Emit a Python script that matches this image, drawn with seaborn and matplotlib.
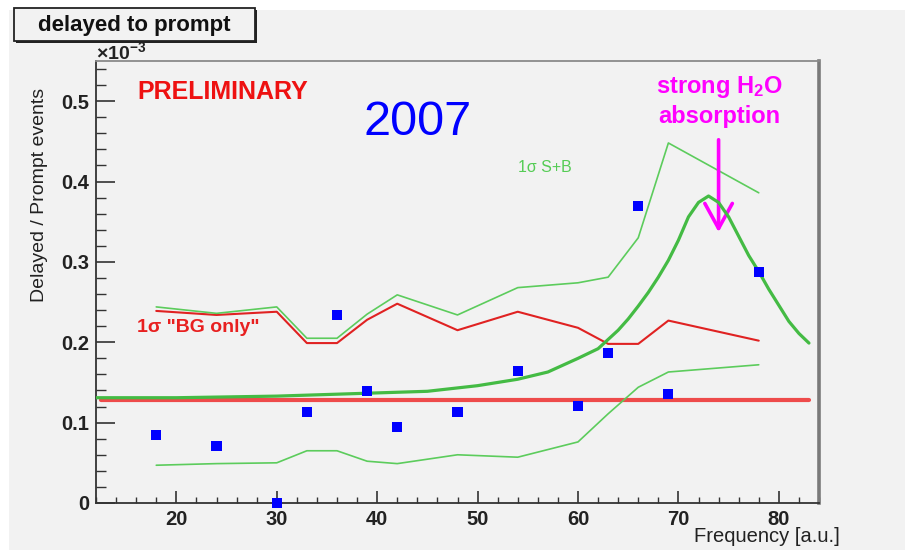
import matplotlib
matplotlib.use("Agg")
import matplotlib.pyplot as plt
from matplotlib.patches import Rectangle
from matplotlib.ticker import MultipleLocator
import numpy as np
import pandas as pd
import seaborn as sns

# ---- data (ratios in units of 1e-3) ----
freq = [18, 24, 30, 33, 36, 39, 42, 48, 54, 60, 63, 66, 69, 78]
measured = [0.085, 0.071, 0.0, 0.113, 0.234, 0.139, 0.094, 0.113,
            0.164, 0.121, 0.187, 0.370, 0.136, 0.288]

bg_only_upper = [0.239, 0.234, 0.238, 0.199, 0.199, 0.228, 0.248, 0.215,
                 0.238, 0.218, 0.198, 0.198, 0.227, 0.202]
sb_upper = [0.244, 0.236, 0.244, 0.205, 0.205, 0.235, 0.259, 0.234,
            0.268, 0.274, 0.281, 0.330, 0.448, 0.386]
sb_lower = [0.047, 0.049, 0.050, 0.065, 0.065, 0.052, 0.049, 0.060,
            0.057, 0.076, 0.111, 0.144, 0.163, 0.172]

bg_level = 0.128
bg_range = [12.5, 83.0]

model_freq = [12, 20, 30, 40, 45, 50, 54, 57, 60, 62, 64, 65, 66, 67, 68,
              69, 70, 71, 72, 73, 74, 75, 76, 77, 78, 79, 80, 81, 82, 83]
model_ratio = [0.131, 0.131, 0.133, 0.137, 0.139, 0.146, 0.154, 0.163,
               0.180, 0.192, 0.215, 0.229, 0.245, 0.262, 0.281, 0.302,
               0.327, 0.356, 0.374, 0.382, 0.374, 0.356, 0.332, 0.308,
               0.288, 0.266, 0.246, 0.226, 0.211, 0.199]

x_ticks = [20, 30, 40, 50, 60, 70, 80]
y_ticks = [0, 0.1, 0.2, 0.3, 0.4, 0.5]
y_tick_labels = ["0", "0.1", "0.2", "0.3", "0.4", "0.5"]

# ---- style ----
sns.set_theme(style="ticks")
plt.rcParams["font.family"] = ["Liberation Sans", "DejaVu Sans"]
plt.rcParams["mathtext.fontset"] = "custom"
plt.rcParams["mathtext.rm"] = "Liberation Sans:bold"
plt.rcParams["mathtext.it"] = "Liberation Sans:bold"
plt.rcParams["mathtext.bf"] = "Liberation Sans:bold"
plt.rcParams["lines.solid_joinstyle"] = "round"
plt.rcParams["lines.solid_capstyle"] = "round"

W, H = 906, 551
panel = "#f2f2f2"
fig = plt.figure(figsize=(W / 100, H / 100), dpi=100, facecolor="white")
fig.patches.append(Rectangle((9 / W, 1 / H), 896 / W, 540 / H,
                             transform=fig.transFigure, facecolor=panel,
                             edgecolor="none", zorder=-10))

ax = fig.add_axes([96 / W, 48 / H, (819 - 96) / W, (503 - 61) / H])
ax.set_facecolor(panel)

# measurements, expectation bands and signal model
sb_df = pd.DataFrame({"f": freq, "up": sb_upper, "lo": sb_lower,
                      "bg": bg_only_upper, "ratio": measured})
model_df = pd.DataFrame({"f": model_freq, "ratio": model_ratio})

sns.lineplot(x=bg_range, y=[bg_level, bg_level], ax=ax, color="#ee4b4b",
             lw=3.0, zorder=2)
sns.lineplot(data=sb_df, x="f", y="bg", ax=ax, color="#e02222", lw=1.5,
             zorder=3)
sns.lineplot(data=sb_df, x="f", y="up", ax=ax, color="#5ccc5c", lw=1.2,
             zorder=3)
sns.lineplot(data=sb_df, x="f", y="lo", ax=ax, color="#5ccc5c", lw=1.2,
             zorder=3)
sns.lineplot(data=model_df, x="f", y="ratio", ax=ax, color="#44bb44",
             lw=2.3, zorder=4)
sns.scatterplot(data=sb_df, x="f", y="ratio", ax=ax, marker="s", s=52,
                color="#0000ff", edgecolor="none", linewidth=0, zorder=6,
                clip_on=False)

ax.set_xlim(12, 84)
ax.set_ylim(0, 0.55)
ax.set_xlabel("")
ax.set_ylabel("")

ax.set_xticks(x_ticks)
ax.set_xticklabels([str(t) for t in x_ticks])
ax.set_yticks(y_ticks)
ax.set_yticklabels(y_tick_labels)
ax.xaxis.set_minor_locator(MultipleLocator(2))
ax.yaxis.set_minor_locator(MultipleLocator(0.02))
ax.tick_params(axis="y", which="major", direction="in", length=14,
               width=1.2, color="#333333", pad=5, labelsize=14.5,
               labelcolor="#222222")
ax.tick_params(axis="y", which="minor", direction="in", length=7,
               width=1.0, color="#333333")
ax.tick_params(axis="x", which="major", direction="in", length=9,
               width=1.2, color="#333333", pad=5, labelsize=14.5,
               labelcolor="#222222")
ax.tick_params(axis="x", which="minor", direction="in", length=4.5,
               width=1.0, color="#333333")
for lab in ax.get_xticklabels() + ax.get_yticklabels():
    lab.set_fontweight("bold")

for side in ("left", "bottom"):
    ax.spines[side].set_color("#333333")
    ax.spines[side].set_linewidth(1.3)
ax.spines["top"].set_color("#8a8a8a")
ax.spines["top"].set_linewidth(1.3)
ax.spines["right"].set_color("#7a7a7a")
ax.spines["right"].set_linewidth(2.6)

# annotations
ax.text(16.1, 0.512, "PRELIMINARY", color="#ee1111", fontsize=18,
        fontweight="bold", ha="left", va="center")
ax.text(44.0, 0.473, "2007", color="#0000ff", fontsize=35,
        ha="center", va="center")
ax.text(54.0, 0.417, "1σ S+B", color="#55cc55", fontsize=11.5,
        ha="left", va="center")
ax.text(16.1, 0.219, '1σ "BG only"', color="#e82020", fontsize=14,
        fontweight="bold", ha="left", va="center")
ax.text(74.1, 0.518, r"strong H$_2$O", color="#ff00ff", fontsize=17,
        fontweight="bold", ha="center", va="center")
ax.text(74.1, 0.481, "absorption", color="#ff00ff", fontsize=17,
        fontweight="bold", ha="center", va="center")
ax.annotate("", xy=(74.0, 0.337), xytext=(74.0, 0.452),
            arrowprops=dict(arrowstyle="->,head_length=1.0,head_width=0.55",
                            color="#ff00ff", lw=2.6, shrinkA=0, shrinkB=0,
                            mutation_scale=18))

fig.text(96 / W, 1 - 52 / H, r"$\times10^{-3}$", fontsize=14,
         color="#222222", ha="left", va="center")
fig.text(40 / W, 1 - 88 / H, "Delayed / Prompt events", rotation=90,
         fontsize=14, color="#222222", ha="center", va="top")
fig.text(840 / W, 1 - 537 / H, "Frequency [a.u.]", fontsize=14.5,
         color="#222222", ha="right", va="center")

# title box with drop shadow
fig.patches.append(Rectangle((16 / W, 1 - 43 / H), 241 / W, 33 / H,
                             transform=fig.transFigure, facecolor="#222222",
                             edgecolor="none", zorder=1))
fig.patches.append(Rectangle((14 / W, 1 - 41 / H), 241 / W, 33 / H,
                             transform=fig.transFigure, facecolor=panel,
                             edgecolor="#222222", lw=1.3, zorder=2))
fig.text(134 / W, 1 - 25 / H, "delayed to prompt", fontsize=16,
         fontweight="bold", color="#111111", ha="center", va="center",
         zorder=3)

fig.savefig("out.png", dpi=100, facecolor=fig.get_facecolor())
